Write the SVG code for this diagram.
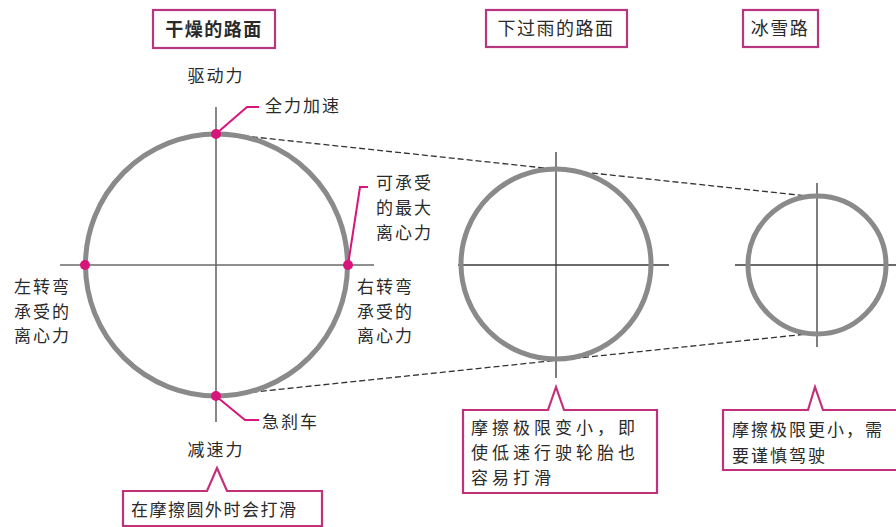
<svg xmlns="http://www.w3.org/2000/svg" width="896" height="527" viewBox="0 0 896 527">
<style>
text{font-family:"Noto Sans CJK SC","Noto Sans",sans-serif;fill:#2a2a2a;font-size:17px;letter-spacing:2px}
.title{font-size:18px;font-weight:bold;letter-spacing:1.5px}
.tbox{fill:#fff;stroke:#b8357f;stroke-width:2.2}
.call{fill:#fff;stroke:#c2307c;stroke-width:2.2}
.ring{fill:none;stroke:#8a8a8a;stroke-width:5}
.axis{stroke:#3a3a3a;stroke-width:1.3}
.axisg{stroke:#6a6a6a;stroke-width:1.6}
.dash{stroke:#333;stroke-width:1.3;stroke-dasharray:6 3;fill:none}
.lead{stroke:#d8157a;stroke-width:2;fill:none}
.dot{fill:#d8157a}
</style>
<rect width="896" height="527" fill="#fff"/>
<g id="connectors">
<line class="dash" x1="216" y1="133" x2="817" y2="197"/>
<line class="dash" x1="216" y1="396" x2="817" y2="333"/>
</g>
<g id="dry">
<rect class="tbox" x="153" y="10" width="122" height="38"/>
<text class="title" x="214" y="36" text-anchor="middle">干燥的路面</text>
<line class="axisg" x1="60" y1="265" x2="374" y2="265"/>
<line class="axisg" x1="216" y1="107" x2="216" y2="422"/>
<circle class="ring" cx="216.5" cy="265" r="131"/>
<text x="216" y="82" text-anchor="middle">驱动力</text>
<text x="216" y="456" text-anchor="middle">减速力</text>
<path class="lead" d="M217,133 L247,107 H259"/>
<text x="265" y="112">全力加速</text>
<path class="lead" d="M348,265 L360,187 H368"/>
<text x="376" y="189">可承受</text>
<text x="376" y="214">的最大</text>
<text x="376" y="239">离心力</text>
<text x="14" y="293">左转弯</text>
<text x="14" y="318">承受的</text>
<text x="14" y="342">离心力</text>
<text x="357" y="293">右转弯</text>
<text x="357" y="318">承受的</text>
<text x="357" y="342">离心力</text>
<path class="lead" d="M217,397 L245,420 H259"/>
<text x="262" y="428">急刹车</text>
<circle class="dot" cx="216" cy="134" r="5"/>
<circle class="dot" cx="85" cy="265" r="5"/>
<circle class="dot" cx="348" cy="265" r="5"/>
<circle class="dot" cx="216" cy="396" r="5"/>
<path class="call" d="M123,491 H207 L217,468 L227,491 H322 V526 H123 Z"/>
<text x="131" y="516" style="letter-spacing:1.5px">在摩擦圆外时会打滑</text>
</g>
<g id="wet">
<rect class="tbox" x="486" y="10" width="141" height="37"/>
<text class="title" x="556" y="35" text-anchor="middle" style="font-weight:normal">下过雨的路面</text>
<line class="axis" x1="458" y1="265" x2="669" y2="265"/>
<line class="axis" x1="556" y1="152" x2="556" y2="378"/>
<circle class="ring" cx="556" cy="264" r="95"/>
<path class="call" d="M463,410 H548 L556,387 L564,410 H657 V493 H463 Z"/>
<text x="471" y="434" style="letter-spacing:4px">摩擦极限变小，即</text>
<text x="471" y="459" style="letter-spacing:4px">使低速行驶轮胎也</text>
<text x="471" y="484" style="letter-spacing:4px">容易打滑</text>
</g>
<g id="ice">
<rect class="tbox" x="743" y="10" width="75" height="37"/>
<text class="title" x="780" y="35" text-anchor="middle" style="font-weight:normal">冰雪路</text>
<line class="axis" x1="735" y1="265" x2="896" y2="265"/>
<line class="axis" x1="817" y1="183" x2="817" y2="347"/>
<circle class="ring" cx="817" cy="265" r="69"/>
<path class="call" d="M723,410 H808 L815,387 L823,410 H905 V470 H723 Z"/>
<text x="732" y="436" style="letter-spacing:2px">摩擦极限更小，需</text>
<text x="732" y="462" style="letter-spacing:2px">要谨慎驾驶</text>
</g>
</svg>
